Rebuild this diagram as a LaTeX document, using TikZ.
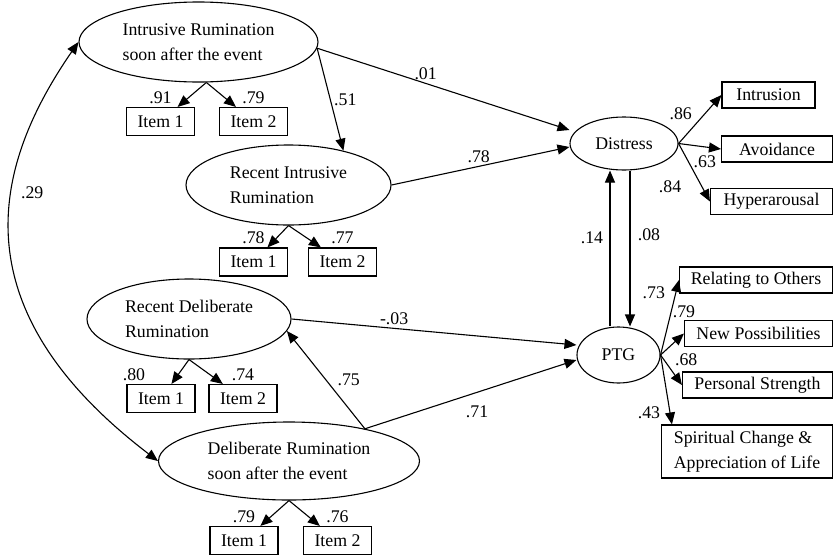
\documentclass[tikz,border=0pt]{standalone}
\usepackage{fontspec}
\setmainfont{Liberation Serif}
\usepackage{tikz}
\usetikzlibrary{shapes,arrows.meta}
\tikzset{>={Triangle[length=12pt,width=10pt]},every node/.style={font=\fontsize{17.8pt}{25pt}\selectfont},
  latent/.style={ellipse,draw,line width=1.1pt,inner sep=0pt,align=left},
  itembox/.style={rectangle,draw,line width=1.1pt,minimum height=28pt,inner xsep=11pt,inner ysep=0pt},
  indbox/.style={rectangle,draw,line width=1.1pt,minimum height=26pt,inner sep=0pt},
  lnk/.style={->,line width=1.1pt}}

\begin{document}
\begin{tikzpicture}[x=1pt,y=-1pt]
    \useasboundingbox (0,0) rectangle (834,557);
    % latent variables
    \node[latent,minimum width=239pt,minimum height=80pt] (irs) at (198.5,42) {Intrusive Rumination\\soon after the event};
    \node[latent,minimum width=205pt,minimum height=80pt] (rir) at (288.5,185) {Recent Intrusive\\Rumination};
    \node[latent,minimum width=204pt,minimum height=80pt] (rdr) at (189,319) {Recent Deliberate\\Rumination};
    \node[latent,minimum width=261pt,minimum height=78pt] (drs) at (289,461) {Deliberate Rumination\\soon after the event};
    \node[latent,minimum width=108pt,minimum height=53pt] (dis) at (624,143.5) {Distress};
    \node[latent,minimum width=83pt,minimum height=56pt] (ptg) at (618.5,355) {PTG};
    % items
    \node[itembox,label=above:.91] (irs1) at (160.5,121.5) {Item 1};
    \node[itembox,label=above:.79] (irs2) at (253.5,121.5) {Item 2};
    \node[itembox,label=above:.78] (rir1) at (253.5,262) {Item 1};
    \node[itembox,label=above:.77] (rir2) at (342.5,262) {Item 2};
    \node[itembox,label={[xshift=-27pt]above:.80}] (rdr1) at (161,398.5) {Item 1};
    \node[itembox,label=above:.74] (rdr2) at (243,398.5) {Item 2};
    \node[itembox,label=above:.79] (drs1) at (244,540.5) {Item 1};
    \node[itembox,label=above:.76] (drs2) at (337.5,540.5) {Item 2};
    % indicators
    \node[indbox,minimum width=93pt] (intr) at (768.5,95) {Intrusion};
    \node[indbox,minimum width=111pt] (avoi) at (777,149) {Avoidance};
    \node[indbox,minimum width=122pt] (hyp) at (771.5,201.5) {Hyperarousal};
    \node[indbox,minimum width=153pt] (rel) at (756,280) {Relating to Others};
    \node[indbox,minimum width=148pt] (newp) at (758.5,333.5) {New Possibilities};
    \node[indbox,minimum width=150pt] (pers) at (757.5,385) {Personal Strength};
    \node[indbox,minimum width=171pt,minimum height=53pt,align=left] (sc) at (747,451.5) {Spiritual Change \&\\Appreciation of Life};
    \coordinate (ptg14) at ([xshift=-8.5pt]ptg.north);
    \coordinate (dis08) at ([xshift=6pt]dis.south);
    \path[lnk]
    (irs.-79) edge (irs1) edge (irs2)
    (rir.south) edge (rir1) edge (rir2)
    (rdr.south) edge (rdr1) edge (rdr2)
    (drs.south) edge (drs1) edge (drs2)
    (irs.-3) edge node[pos=.43,above] {.01} ([yshift=13.5pt]dis.west)
    (irs.-3) edge node[pos=.5,right] {.51} (rir.32)
    (rir.east) edge node[pos=.49,above] {.78} ([yshift=-3.5pt]dis.west)
    (rdr.east) edge node[pos=.36,above] {-.03} ([yshift=10pt]ptg.west)
    (drs.23) edge node[pos=.4,above right] {.75} (rdr.-7.5)
    (drs.23) edge node[pos=.53,below=10pt] {.71} ([yshift=-5pt]ptg.west)
    (ptg14) edge node[pos=.57,left=3pt] {.14} (ptg14 |- dis.south)
    (dis08) edge node[pos=.41,right=4pt] {.08} (dis08 |- ptg.north)
    (dis.east) edge node[pos=.4,above left] {.86} (intr.west)
    (dis.east) edge node[pos=.62,below=5pt] {.63} (avoi.west)
    (dis.east) edge node[pos=.75,left=17pt] {.84} (hyp.west)
    (ptg.east) edge node[pos=.83,left=7pt] {.73} (rel.west)
    (ptg.east) edge node[pos=1,above=12pt] {.79} (newp.west)
    (ptg.east) edge node[pos=.5,above right] {.68} (pers.west)
    (ptg.east) edge node[pos=.83,left=6pt] {.43} ([xshift=11pt]sc.north west)
    ;
    \draw[lnk,<->] (irs.west) .. controls (-10,170) and (-40,310) .. (drs.west) node[pos=.38,right=5pt] {.29};
\end{tikzpicture}
\end{document}
